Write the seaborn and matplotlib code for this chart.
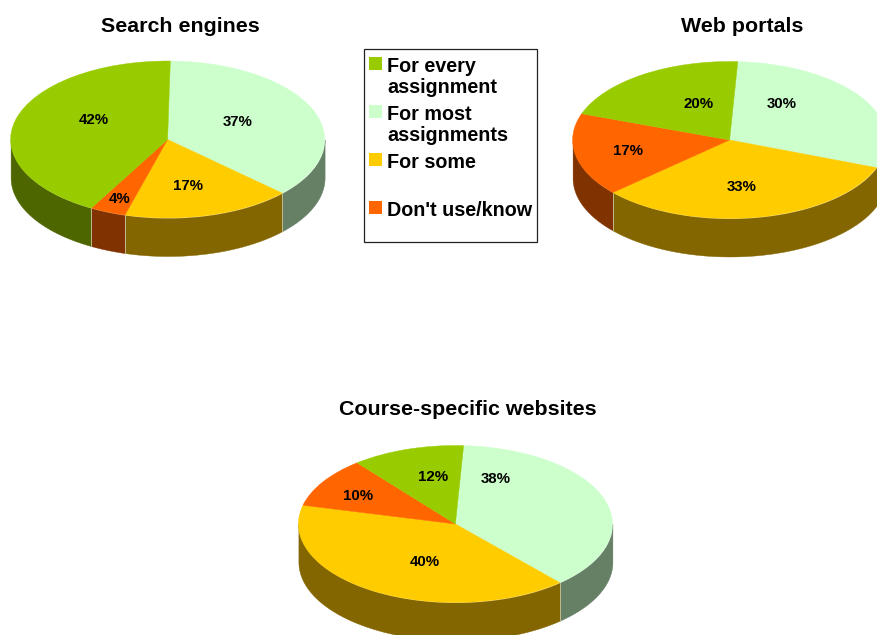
import numpy as np
import matplotlib
matplotlib.use("Agg")
import matplotlib.pyplot as plt
from matplotlib.patches import Rectangle
import seaborn as sns

# values in legend order (labels are rounded)
categories = ["For every\nassignment", "For most\nassignments", "For some", "Don't use/know"]
search_engines = [42.2, 36.7, 17.4, 3.7]
web_portals = [20.4, 29.9, 32.6, 17.1]
course_sites = [11.6, 37.6, 40.4, 10.4]

top_colors = sns.color_palette(["#99CC00", "#CCFFCC", "#FFCC00", "#FF6600"])
side_colors = sns.color_palette(["#4D6600", "#668066", "#846600", "#803300"])

W, H = 877, 635
RX, RY, DEPTH = 157, 78.5, 38

sns.set_theme(style="white")
plt.rcParams["font.family"] = ["Liberation Sans", "DejaVu Sans"]
plt.rcParams["font.weight"] = "bold"
plt.rcParams["text.color"] = "black"

fig = plt.figure(figsize=(W / 100, H / 100), dpi=100)


def draw_pie(values, cx, cy, start):
    # pie starts with the second category and runs clockwise
    order = [1, 2, 3, 0]
    vals = [values[i] for i in order]
    tops = [top_colors[i] for i in order]
    sides = [side_colors[i] for i in order]

    ax = fig.add_axes([(cx - RX) / W, 1 - (cy + RY + DEPTH) / H,
                       2 * RX / W, (2 * RY + DEPTH) / H])
    wedges, _ = ax.pie(vals, colors=tops, startangle=start, counterclock=False,
                       wedgeprops={"linewidth": 0.3, "zorder": 3})
    for w in wedges:
        w.set_edgecolor(w.get_facecolor())
        w.set_clip_on(False)
    ax.set_aspect("auto")
    ax.set_xlim(-1, 1)
    ax.set_ylim(-1 - DEPTH / RY, 1)

    # side wall, only the front half of the rim shows
    d = DEPTH / RY
    a0 = start
    for v, col in zip(vals, sides):
        a1 = a0 - v * 3.6
        for shift in (0, -360):
            hi = min(a0 - shift, 0) if a0 - shift > -180 else None
            if hi is None:
                continue
            lo = max(a1 - shift, -180)
            if lo >= hi:
                continue
            t = np.radians(np.linspace(lo, hi, 60))
            ax.fill_between(np.cos(t), np.sin(t), np.sin(t) - d, color=col,
                            linewidth=0.3, zorder=1, clip_on=False)
            for edge, ang in ((lo, a1 - shift), (hi, a0 - shift)):
                if edge == ang:
                    x = np.cos(np.radians(ang))
                    y = np.sin(np.radians(ang))
                    ax.plot([x, x], [y, y - d], color="#C8BE96", lw=0.5, zorder=2,
                            clip_on=False)
        a0 = a1
    ax.axis("off")


draw_pie(search_engines, 167.6, 139.5, 89)
draw_pie(web_portals, 729.6, 140, 87)
draw_pie(course_sites, 455.4, 524, 87)

# overlay in pixel coordinates for titles, labels and legend
over = fig.add_axes([0, 0, 1, 1], zorder=5)
over.set_xlim(0, W)
over.set_ylim(H, 0)
over.axis("off")

over.text(180, 26.5, "Search engines", ha="center", va="center", fontsize=15.4)
over.text(742, 26.5, "Web portals", ha="center", va="center", fontsize=15.4)
over.text(468, 409.5, "Course-specific websites", ha="center", va="center", fontsize=15.4)

label_spots = [
    (search_engines, [(94, 120), (238, 122), (188, 186), (120, 199)]),
    (web_portals, [(699, 104), (782, 104), (742, 187), (628, 151)]),
    (course_sites, [(433, 477), (496, 479), (425, 562), (358, 496)]),
]
for values, spots in label_spots:
    for v, (x, y) in zip(values, spots):
        over.text(x, y, f"{v:.0f}%", ha="center", va="center", fontsize=10.8)

# legend box
over.add_patch(Rectangle((364, 49), 173, 193, fill=False, edgecolor="#222222", lw=0.9))
for i, (name, col) in enumerate(zip(categories, top_colors)):
    y = 57 + 48 * i
    over.add_patch(Rectangle((369, y), 13, 13, facecolor=col, edgecolor="none"))
    for j, line in enumerate(name.split("\n")):
        over.text(387, y + 15 + 21 * j, line, ha="left", va="baseline", fontsize=14.2)

fig.savefig("out.png", dpi=100, facecolor="white")
